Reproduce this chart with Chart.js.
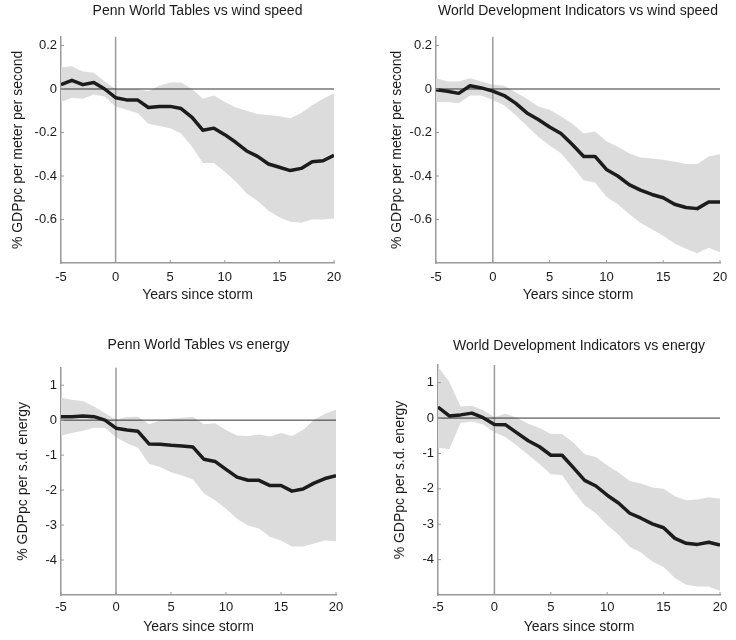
<!DOCTYPE html>
<html>
<head>
<meta charset="utf-8">
<script src="https://cdn.jsdelivr.net/npm/chart.js@4.4.0/dist/chart.umd.min.js"></script>
<style>
  body { margin: 0; background: #fff; }
  canvas { position: absolute; }
</style>
</head>
<body>
<canvas id="pwtWind" width="368" height="320" style="left:0;top:0"></canvas>
<canvas id="wdiWind" width="368" height="320" style="left:368px;top:0"></canvas>
<canvas id="pwtEnergy" width="368" height="320" style="left:0;top:320px"></canvas>
<canvas id="wdiEnergy" width="368" height="320" style="left:368px;top:320px"></canvas>
<script>
const years = [-5, -4, -3, -2, -1, 0, 1, 2, 3, 4, 5, 6, 7, 8, 9, 10, 11, 12, 13, 14, 15, 16, 17, 18, 19, 20];
const xTicks = [-5, 0, 5, 10, 15, 20];
const windTicks = [-0.6, -0.4, -0.2, 0, 0.2];
const energyTicks = [-4, -3, -2, -1, 0, 1];

// Penn World Tables vs wind speed
const pwtWindLine = [0.02, 0.04, 0.02, 0.03, 0.0, -0.04, -0.05, -0.05, -0.085, -0.08, -0.08, -0.09, -0.13, -0.19, -0.18, -0.21, -0.245, -0.285, -0.31, -0.345, -0.36, -0.375, -0.365, -0.335, -0.33, -0.305];
const pwtWindUpper = [0.10, 0.105, 0.08, 0.075, 0.035, 0.0, 0.0, 0.0, -0.01, 0.015, 0.03, 0.03, 0.0, -0.045, -0.03, -0.06, -0.085, -0.10, -0.115, -0.12, -0.125, -0.135, -0.11, -0.075, -0.045, -0.02];
const pwtWindLower = [-0.06, -0.04, -0.045, -0.025, -0.035, -0.08, -0.095, -0.11, -0.16, -0.17, -0.18, -0.205, -0.265, -0.34, -0.34, -0.38, -0.425, -0.48, -0.515, -0.56, -0.59, -0.61, -0.615, -0.60, -0.60, -0.595];

// World Development Indicators vs wind speed
const wdiWindLine = [-0.003, -0.01, -0.02, 0.015, 0.005, -0.01, -0.03, -0.065, -0.11, -0.14, -0.175, -0.205, -0.255, -0.31, -0.31, -0.37, -0.40, -0.44, -0.465, -0.485, -0.50, -0.53, -0.545, -0.55, -0.52, -0.52];
const wdiWindUpper = [0.05, 0.035, 0.035, 0.05, 0.035, 0.02, 0.015, -0.015, -0.045, -0.08, -0.095, -0.125, -0.16, -0.205, -0.195, -0.24, -0.265, -0.295, -0.315, -0.32, -0.325, -0.335, -0.345, -0.345, -0.31, -0.30];
const wdiWindLower = [-0.06, -0.06, -0.065, -0.03, -0.03, -0.05, -0.075, -0.12, -0.17, -0.22, -0.26, -0.295, -0.355, -0.42, -0.43, -0.495, -0.53, -0.575, -0.615, -0.645, -0.675, -0.71, -0.735, -0.755, -0.73, -0.75];

// Penn World Tables vs energy
const pwtEnergyLine = [0.1, 0.1, 0.12, 0.1, 0.0, -0.23, -0.28, -0.32, -0.68, -0.69, -0.72, -0.74, -0.77, -1.12, -1.18, -1.41, -1.63, -1.72, -1.72, -1.87, -1.87, -2.03, -1.97, -1.8, -1.67, -1.59];
const pwtEnergyUpper = [0.64, 0.58, 0.54, 0.39, 0.2, 0.02, 0.09, 0.1, -0.12, -0.01, 0.04, 0.07, 0.1, -0.12, -0.09, -0.28, -0.44, -0.45, -0.41, -0.47, -0.37, -0.45, -0.28, 0.01, 0.18, 0.3];
const pwtEnergyLower = [-0.44, -0.37, -0.3, -0.22, -0.22, -0.49, -0.66, -0.79, -1.25, -1.34, -1.49, -1.58, -1.7, -2.1, -2.29, -2.53, -2.82, -3.01, -3.1, -3.34, -3.44, -3.61, -3.61, -3.53, -3.44, -3.46];

// World Development Indicators vs energy
const wdiEnergyLine = [0.31, 0.06, 0.09, 0.14, 0.01, -0.18, -0.19, -0.42, -0.64, -0.81, -1.05, -1.05, -1.4, -1.76, -1.92, -2.18, -2.4, -2.69, -2.83, -2.99, -3.1, -3.4, -3.54, -3.57, -3.51, -3.59];
const wdiEnergyUpper = [1.45, 1.03, 0.33, 0.35, 0.22, 0.03, 0.12, 0.01, -0.16, -0.28, -0.45, -0.45, -0.69, -1.02, -1.1, -1.33, -1.54, -1.78, -1.85, -1.96, -2.0, -2.21, -2.32, -2.3, -2.24, -2.28];
const wdiEnergyLower = [-0.83, -0.88, -0.14, -0.1, -0.18, -0.4, -0.54, -0.78, -1.04, -1.3, -1.59, -1.61, -2.07, -2.47, -2.69, -3.02, -3.3, -3.64, -3.8, -4.05, -4.21, -4.52, -4.71, -4.76, -4.76, -4.88];

const FONT = "'Liberation Sans', Arial, Helvetica, sans-serif";
const TEXT = "#1a1a1a";
const AXIS = "#9a9a9a";

const pts = (arr) => years.map((x, i) => ({ x: x, y: arr[i] }));

// zero lines sit above the band but under the estimate line
const refLines = {
  id: "refLines",
  beforeDatasetDraw(chart, args) {
    if (args.index !== 0) return;
    const { ctx, chartArea: a, scales } = chart;
    const x0 = scales.x.getPixelForValue(0);
    const y0 = scales.y.getPixelForValue(0);
    ctx.save();
    ctx.strokeStyle = AXIS;
    ctx.lineWidth = 1.5;
    ctx.beginPath();
    ctx.moveTo(x0, a.top);
    ctx.lineTo(x0, a.bottom);
    ctx.stroke();
    ctx.strokeStyle = "#333";
    ctx.lineWidth = 1;
    ctx.beginPath();
    ctx.moveTo(a.left, y0);
    ctx.lineTo(a.right, y0);
    ctx.stroke();
    ctx.restore();
  },
  afterDraw(chart) {
    // small inward tick marks
    const { ctx, chartArea: a, scales } = chart;
    ctx.save();
    ctx.strokeStyle = AXIS;
    ctx.lineWidth = 1;
    scales.x.ticks.forEach((t) => {
      const px = scales.x.getPixelForValue(t.value);
      ctx.beginPath();
      ctx.moveTo(px, a.bottom);
      ctx.lineTo(px, a.bottom - 3);
      ctx.stroke();
    });
    scales.y.ticks.forEach((t) => {
      const py = scales.y.getPixelForValue(t.value);
      ctx.beginPath();
      ctx.moveTo(a.left, py);
      ctx.lineTo(a.left + 3, py);
      ctx.stroke();
    });
    ctx.restore();
  },
};

function makePanel(id, title, yTitle, line, upper, lower, yMin, yMax, yTicks, lay) {
  new Chart(document.getElementById(id), {
    type: "line",
    data: {
      datasets: [
        {
          data: pts(line),
          borderColor: "#1c1c1c",
          borderWidth: 3.5,
          borderJoinStyle: "round",
          pointRadius: 0,
          tension: 0,
          fill: false,
        },
        {
          data: pts(upper),
          borderWidth: 0,
          pointRadius: 0,
          backgroundColor: "#dcdcdc",
          fill: "+1",
        },
        {
          data: pts(lower),
          borderWidth: 0,
          pointRadius: 0,
          fill: false,
        },
      ],
    },
    options: {
      responsive: false,
      animation: false,
      layout: { padding: { left: 0, right: lay.right, top: 0, bottom: 0 } },
      plugins: {
        legend: { display: false },
        tooltip: { enabled: false },
        title: {
          display: true,
          text: title,
          fullSize: false,
          color: TEXT,
          font: { family: FONT, size: 14, weight: "normal" },
          padding: { top: lay.titleTop, bottom: lay.titleBottom },
        },
      },
      scales: {
        x: {
          type: "linear",
          min: -5,
          max: 20,
          afterBuildTicks: (s) => { s.ticks = xTicks.map((v) => ({ value: v })); },
          afterFit: (s) => { s.height = lay.xHeight; },
          grid: { display: true, drawOnChartArea: false, drawTicks: false },
          border: { color: AXIS, width: 1.5 },
          ticks: { color: TEXT, padding: lay.xTickPad, maxRotation: 0, font: { family: FONT, size: 13 } },
          title: {
            display: true,
            text: "Years since storm",
            color: TEXT,
            font: { family: FONT, size: 14 },
            padding: { top: 0, bottom: lay.xTitlePad },
          },
        },
        y: {
          min: yMin,
          max: yMax,
          afterBuildTicks: (s) => { s.ticks = yTicks.map((v) => ({ value: v })); },
          afterFit: (s) => { s.width = lay.yWidth; },
          grid: { display: true, drawOnChartArea: false, drawTicks: false },
          border: { color: AXIS, width: 1.5 },
          ticks: { color: TEXT, padding: 4, font: { family: FONT, size: 13 } },
          title: {
            display: true,
            text: yTitle,
            color: TEXT,
            font: { family: FONT, size: 14 },
            padding: { top: lay.yTitlePad, bottom: 0 },
          },
        },
      },
    },
    plugins: [refLines],
  });
}

makePanel("pwtWind", "Penn World Tables vs wind speed", "% GDPpc per meter per second",
  pwtWindLine, pwtWindUpper, pwtWindLower, -0.8, 0.24, windTicks,
  { right: 34, titleTop: 3, titleBottom: 17, xHeight: 57, xTickPad: 7, xTitlePad: 16, yWidth: 61, yTitlePad: 10 });

makePanel("wdiWind", "World Development Indicators vs wind speed", "% GDPpc per meter per second",
  wdiWindLine, wdiWindUpper, wdiWindLower, -0.8, 0.24, windTicks,
  { right: 16, titleTop: 3, titleBottom: 17, xHeight: 57, xTickPad: 7, xTitlePad: 16, yWidth: 68, yTitlePad: 20.6 });

makePanel("pwtEnergy", "Penn World Tables vs energy", "% GDPpc per s.d. energy",
  pwtEnergyLine, pwtEnergyUpper, pwtEnergyLower, -5, 1.5, energyTicks,
  { right: 32, titleTop: 17, titleBottom: 13.9, xHeight: 45, xTickPad: 5, xTitlePad: 4.6, yWidth: 61, yTitlePad: 14.3 });

makePanel("wdiEnergy", "World Development Indicators vs energy", "% GDPpc per s.d. energy",
  wdiEnergyLine, wdiEnergyUpper, wdiEnergyLower, -5, 1.5, energyTicks,
  { right: 16, titleTop: 18, titleBottom: 10.2, xHeight: 45, xTickPad: 5, xTitlePad: 4.6, yWidth: 70, yTitlePad: 23.9 });
</script>
</body>
</html>
